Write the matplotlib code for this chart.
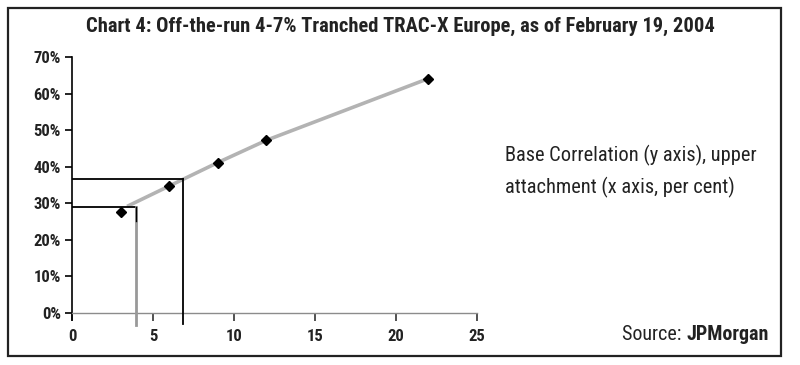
import matplotlib
matplotlib.use("Agg")
import matplotlib.pyplot as plt
from matplotlib.patches import Rectangle
from matplotlib import font_manager as fm

names = {f.name for f in fm.fontManager.ttflist}
prefs = ['Roboto Condensed', 'Archivo Narrow', 'PT Sans Narrow', 'Barlow Semi Condensed',
         'Encode Sans Condensed', 'Open Sans Condensed', 'Liberation Sans Narrow', 'DejaVu Sans']
narrow = next(p for p in prefs if p in names)
plt.rcParams['font.family'] = [narrow, 'DejaVu Sans']

# Data
attach_x = [3, 6, 9, 12, 22]                       # upper attachment (%)
base_corr = [0.277, 0.348, 0.411, 0.472, 0.641]    # base correlation
curve_x = [3.4, 6.85, 9, 12, 22]                   # interpolated curve
curve_y = [0.291, 0.365, 0.411, 0.472, 0.641]
lower_x, lower_y = 3.95, 0.289                     # 4% attachment guide
upper_x, upper_y = 6.85, 0.365                     # 7% attachment guide
xticks = [0, 5, 10, 15, 20, 25]
yticks = [0, 0.1, 0.2, 0.3, 0.4, 0.5, 0.6, 0.7]
ytick_labels = ['0%', '10%', '20%', '30%', '40%', '50%', '60%', '70%']

fig = plt.figure(figsize=(8, 3.65), dpi=100)
fig.patches.append(Rectangle((8/800, 1-356/365), 773/800, 348/365, transform=fig.transFigure,
                             fill=False, edgecolor='#222222', linewidth=1.6))
renderer = fig.canvas.get_renderer()


def fit(t, width_px):
    w = t.get_window_extent(renderer).width
    t.set_fontsize(t.get_fontsize() * width_px / w)


title = fig.text(0.5, 1-26/365,
                 'Chart 4: Off-the-run 4-7% Tranched TRAC-X Europe, as of February 19, 2004',
                 ha='center', va='center', fontsize=14, fontweight='bold', color='#222222')
fit(title, 631)

ax = fig.add_axes([72/800, 45/365, 405/800, 263/365])
ax.set_xlim(0, 25)
ax.set_ylim(-0.02, 0.70)

ax.plot(curve_x, curve_y, color='#b3b3b3', linewidth=2.6, solid_capstyle='butt', zorder=2)
ax.plot(attach_x, base_corr, linestyle='none', marker='D', markersize=5,
        color='black', zorder=4)

# guide lines
ax.plot([0, lower_x], [lower_y, lower_y], color='black', linewidth=1.3, zorder=3)
ax.plot([lower_x, lower_x], [lower_y, -0.035], color='#999999', linewidth=2.0,
        clip_on=False, zorder=3)
ax.plot([lower_x, lower_x], [lower_y, 0.25], color='black', linewidth=1.0, zorder=3)
ax.plot([0, upper_x], [upper_y, upper_y], color='black', linewidth=1.3, zorder=3)
ax.plot([upper_x, upper_x], [upper_y, -0.032], color='black', linewidth=1.3,
        clip_on=False, zorder=3)

for s in ['top', 'right']:
    ax.spines[s].set_visible(False)
ax.spines['bottom'].set_position(('data', 0))
ax.spines['bottom'].set_color('#8c8c8c')
ax.spines['bottom'].set_linewidth(1.0)
ax.spines['left'].set_color('black')
ax.spines['left'].set_linewidth(1.2)

ax.set_xticks(xticks)
ax.set_xticklabels([str(t) for t in xticks])
ax.set_yticks(yticks)
ax.set_yticklabels(ytick_labels)
ax.tick_params(axis='x', direction='out', length=6, width=1.2, color='#333333',
               labelsize=12, pad=6, labelcolor='#222222')
ax.tick_params(axis='y', direction='out', length=5, width=1.2, color='black',
               labelsize=12, pad=3, labelcolor='#222222')
for lab in ax.get_xticklabels() + ax.get_yticklabels():
    lab.set_fontweight('bold')

l1 = fig.text(505/800, 1-155/365, 'Base Correlation (y axis), upper', ha='left', va='center',
              fontsize=12.5, color='#222222')
fit(l1, 252)
l2 = fig.text(505/800, 1-187/365, 'attachment (x axis, per cent)', ha='left', va='center',
              fontsize=l1.get_fontsize(), color='#222222')
s1 = fig.text(0, 1-335/365, 'Source: ', ha='left', va='center', fontsize=11, color='#222222')
s2 = fig.text(0, 1-335/365, 'JPMorgan', ha='left', va='center', fontsize=11,
              fontweight='bold', color='#222222')
w1 = s1.get_window_extent(renderer).width
w2 = s2.get_window_extent(renderer).width
scale = 146 / (w1 + w2)
s1.set_fontsize(11 * scale)
s2.set_fontsize(11 * scale)
s1.set_x(622/800)
s2.set_x((622 + w1 * scale)/800)

fig.savefig('out.png', dpi=100)
